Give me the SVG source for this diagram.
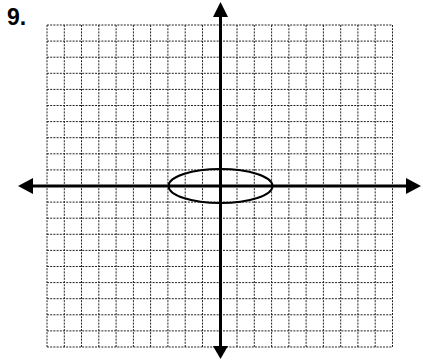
<svg xmlns="http://www.w3.org/2000/svg" width="423" height="363" viewBox="0 0 423 363">
<defs>
<style>
.grid line{stroke:#222;stroke-width:1;stroke-dasharray:2,1.2}
.axis{stroke:#000;stroke-width:3;fill:none}
.head{fill:#000}
.lbl{font-family:"Liberation Sans",Arial,sans-serif;font-weight:bold;font-size:23px;fill:#000}
</style>
</defs>
<rect width="423" height="363" fill="#fff"/>
<g id="label"><text class="lbl" x="7" y="25">9.</text></g>
<g id="grid" class="grid">
<line x1="47" y1="25" x2="47" y2="347"/>
<line x1="64.3" y1="25" x2="64.3" y2="347"/>
<line x1="81.5" y1="25" x2="81.5" y2="347"/>
<line x1="98.8" y1="25" x2="98.8" y2="347"/>
<line x1="116.1" y1="25" x2="116.1" y2="347"/>
<line x1="133.4" y1="25" x2="133.4" y2="347"/>
<line x1="150.6" y1="25" x2="150.6" y2="347"/>
<line x1="167.9" y1="25" x2="167.9" y2="347"/>
<line x1="185.2" y1="25" x2="185.2" y2="347"/>
<line x1="202.5" y1="25" x2="202.5" y2="347"/>
<line x1="237.0" y1="25" x2="237.0" y2="347"/>
<line x1="254.3" y1="25" x2="254.3" y2="347"/>
<line x1="271.6" y1="25" x2="271.6" y2="347"/>
<line x1="288.9" y1="25" x2="288.9" y2="347"/>
<line x1="306.1" y1="25" x2="306.1" y2="347"/>
<line x1="323.4" y1="25" x2="323.4" y2="347"/>
<line x1="340.7" y1="25" x2="340.7" y2="347"/>
<line x1="357.9" y1="25" x2="357.9" y2="347"/>
<line x1="375.2" y1="25" x2="375.2" y2="347"/>
<line x1="392.5" y1="25" x2="392.5" y2="347"/>
<line x1="47" y1="25" x2="392.5" y2="25"/>
<line x1="47" y1="41.1" x2="392.5" y2="41.1"/>
<line x1="47" y1="57.2" x2="392.5" y2="57.2"/>
<line x1="47" y1="73.3" x2="392.5" y2="73.3"/>
<line x1="47" y1="89.4" x2="392.5" y2="89.4"/>
<line x1="47" y1="105.5" x2="392.5" y2="105.5"/>
<line x1="47" y1="121.6" x2="392.5" y2="121.6"/>
<line x1="47" y1="137.7" x2="392.5" y2="137.7"/>
<line x1="47" y1="153.8" x2="392.5" y2="153.8"/>
<line x1="47" y1="169.9" x2="392.5" y2="169.9"/>
<line x1="47" y1="202.1" x2="392.5" y2="202.1"/>
<line x1="47" y1="218.2" x2="392.5" y2="218.2"/>
<line x1="47" y1="234.3" x2="392.5" y2="234.3"/>
<line x1="47" y1="250.4" x2="392.5" y2="250.4"/>
<line x1="47" y1="266.5" x2="392.5" y2="266.5"/>
<line x1="47" y1="282.6" x2="392.5" y2="282.6"/>
<line x1="47" y1="298.7" x2="392.5" y2="298.7"/>
<line x1="47" y1="314.8" x2="392.5" y2="314.8"/>
<line x1="47" y1="330.9" x2="392.5" y2="330.9"/>
<line x1="47" y1="347" x2="392.5" y2="347"/>
</g>
<g id="axes">
<line class="axis" x1="32" y1="186" x2="406" y2="186"/>
<polygon class="head" points="18,186 33,178 33,194"/>
<polygon class="head" points="421,186 406,178 406,194"/>
<line class="axis" x1="220.5" y1="16" x2="220.5" y2="347"/>
<polygon class="head" points="220.5,2 213,17 228,17"/>
<polygon class="head" points="220.5,359 213,346 228,346"/>
</g>
<g id="ellipse"><ellipse cx="220.5" cy="186" rx="52" ry="17" fill="none" stroke="#000" stroke-width="2"/></g>
</svg>
